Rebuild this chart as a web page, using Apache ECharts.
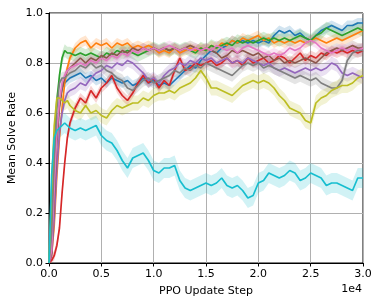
<!DOCTYPE html>
<html><head><meta charset="utf-8">
<script src="https://cdn.jsdelivr.net/npm/echarts@6/dist/echarts.min.js"></script>
<style>html,body{margin:0;padding:0;background:#fff}#c{width:381px;height:305px}</style>
</head><body><div id="c"></div>
<script>
const steps = [0,250,500,750,1000,1250,1500,1750,2000,
 2500,3000,3500,4000,4500,5000,5500,6000,6500,7000,
 7500,8000,8500,9000,9500,10000,10500,11000,11500,12000,
 12500,13000,13500,14000,14500,15000,15500,16000,16500,17000,
 17500,18000,18500,19000,19500,20000,20500,21000,21500,22000,
 22500,23000,23500,24000,24500,25000,25500,26000,26500,27000,
 27500,28000,28500,29000,29500,30000];
const xTickLabels = ['0.0','0.5','1.0','1.5','2.0','2.5','3.0'];
const yTickLabels = ['0.0','0.2','0.4','0.6','0.8','1.0'];

const blue = [0,0.05,0.30,0.52,0.64,0.70,0.72,0.73,0.74,
 0.75,0.76,0.74,0.75,0.73,0.74,0.72,0.74,0.73,0.72,
 0.73,0.71,0.72,0.74,0.72,0.73,0.71,0.72,0.71,0.73,
 0.75,0.77,0.79,0.78,0.81,0.83,0.85,0.84,0.86,0.87,
 0.89,0.88,0.89,0.88,0.89,0.88,0.89,0.88,0.91,0.93,
 0.92,0.93,0.91,0.92,0.90,0.89,0.91,0.93,0.94,0.95,
 0.94,0.93,0.95,0.95,0.96,0.96];
const orange = [0,0.03,0.15,0.35,0.50,0.62,0.72,0.78,0.82,
 0.86,0.88,0.89,0.86,0.88,0.87,0.88,0.86,0.88,0.87,
 0.88,0.86,0.87,0.86,0.87,0.86,0.84,0.85,0.84,0.86,
 0.84,0.85,0.86,0.85,0.86,0.85,0.87,0.86,0.88,0.87,
 0.89,0.88,0.90,0.89,0.90,0.91,0.89,0.90,0.88,0.89,
 0.88,0.89,0.88,0.89,0.88,0.89,0.90,0.89,0.88,0.89,
 0.90,0.89,0.90,0.91,0.92,0.93];
const green = [0,0.15,0.45,0.65,0.75,0.82,0.85,0.84,0.84,
 0.83,0.84,0.83,0.84,0.83,0.82,0.84,0.83,0.85,0.84,
 0.85,0.84,0.83,0.84,0.85,0.86,0.85,0.86,0.85,0.86,
 0.85,0.86,0.85,0.84,0.86,0.85,0.87,0.86,0.87,0.88,
 0.87,0.89,0.88,0.89,0.88,0.89,0.90,0.89,0.90,0.89,
 0.90,0.89,0.90,0.91,0.90,0.89,0.91,0.92,0.94,0.93,
 0.92,0.91,0.92,0.93,0.94,0.93];
const red = [0,0.01,0.03,0.07,0.14,0.28,0.40,0.50,0.56,
 0.62,0.66,0.64,0.69,0.66,0.70,0.72,0.75,0.70,0.67,
 0.65,0.68,0.72,0.75,0.72,0.74,0.70,0.73,0.71,0.77,
 0.82,0.77,0.78,0.80,0.79,0.80,0.81,0.79,0.80,0.82,
 0.80,0.81,0.79,0.82,0.80,0.81,0.82,0.80,0.81,0.83,
 0.82,0.80,0.82,0.84,0.81,0.83,0.82,0.84,0.83,0.85,
 0.84,0.85,0.84,0.85,0.84,0.85];
const purple = [0,0.03,0.18,0.38,0.52,0.60,0.65,0.68,0.69,
 0.70,0.72,0.71,0.74,0.76,0.77,0.79,0.78,0.80,0.79,
 0.81,0.80,0.78,0.76,0.73,0.74,0.72,0.75,0.77,0.78,
 0.80,0.79,0.81,0.80,0.82,0.81,0.82,0.80,0.81,0.82,
 0.80,0.81,0.80,0.82,0.81,0.80,0.79,0.80,0.78,0.77,
 0.78,0.77,0.76,0.77,0.78,0.77,0.78,0.77,0.78,0.80,
 0.79,0.76,0.75,0.76,0.75,0.74];
const brown = [0,0.04,0.25,0.48,0.62,0.70,0.74,0.77,0.78,
 0.80,0.82,0.80,0.82,0.81,0.83,0.82,0.84,0.83,0.85,
 0.84,0.86,0.85,0.86,0.85,0.86,0.85,0.86,0.85,0.86,
 0.85,0.86,0.87,0.86,0.85,0.86,0.85,0.84,0.82,0.83,
 0.85,0.84,0.85,0.84,0.83,0.84,0.82,0.83,0.81,0.82,
 0.80,0.81,0.80,0.81,0.82,0.81,0.80,0.82,0.84,0.85,
 0.86,0.85,0.86,0.87,0.86,0.86];
const pink = [0,0.05,0.30,0.52,0.65,0.72,0.75,0.77,0.78,
 0.79,0.80,0.79,0.81,0.80,0.82,0.81,0.83,0.82,0.84,
 0.83,0.85,0.84,0.86,0.85,0.86,0.85,0.86,0.87,0.86,
 0.85,0.86,0.85,0.86,0.85,0.86,0.85,0.87,0.86,0.85,
 0.86,0.84,0.86,0.87,0.86,0.85,0.84,0.83,0.84,0.83,
 0.84,0.86,0.85,0.86,0.88,0.89,0.88,0.86,0.85,0.84,
 0.85,0.86,0.85,0.86,0.85,0.86];
const gray = [0,0.12,0.42,0.62,0.72,0.74,0.74,0.75,0.76,
 0.77,0.79,0.78,0.80,0.78,0.79,0.77,0.76,0.74,0.73,
 0.70,0.69,0.71,0.73,0.74,0.72,0.73,0.74,0.75,0.77,
 0.76,0.78,0.77,0.79,0.78,0.80,0.79,0.78,0.77,0.76,
 0.75,0.77,0.79,0.80,0.79,0.80,0.78,0.79,0.78,0.77,
 0.76,0.75,0.74,0.75,0.74,0.73,0.74,0.72,0.71,0.70,
 0.70,0.73,0.81,0.84,0.85,0.85];
const olive = [0,0.30,0.55,0.66,0.66,0.65,0.64,0.65,0.63,
 0.61,0.60,0.63,0.60,0.61,0.59,0.58,0.61,0.63,0.62,
 0.63,0.64,0.64,0.66,0.65,0.67,0.68,0.68,0.69,0.68,
 0.70,0.71,0.72,0.74,0.77,0.74,0.70,0.70,0.69,0.68,
 0.67,0.69,0.71,0.72,0.73,0.72,0.73,0.72,0.70,0.67,
 0.65,0.62,0.61,0.60,0.57,0.56,0.64,0.66,0.67,0.69,
 0.70,0.71,0.71,0.72,0.74,0.75];
const cyan = [0,0.35,0.50,0.53,0.54,0.55,0.56,0.55,0.54,
 0.53,0.54,0.53,0.54,0.55,0.51,0.49,0.48,0.45,0.41,
 0.38,0.42,0.43,0.44,0.41,0.37,0.36,0.38,0.38,0.39,
 0.33,0.30,0.29,0.30,0.31,0.32,0.31,0.32,0.34,0.31,
 0.30,0.31,0.29,0.26,0.27,0.32,0.33,0.36,0.35,0.34,
 0.35,0.37,0.36,0.33,0.34,0.36,0.35,0.34,0.31,0.32,
 0.32,0.31,0.30,0.29,0.34,0.34];

const seriesValues = [blue, orange, green, red, purple, brown, pink, gray, olive, cyan];
const spreads = [0.02, 0.02, 0.025, 0.02, 0.025, 0.02, 0.02, 0.025, 0.03, 0.04];
const colors = ['#1f77b4','#ff7f0e','#2ca02c','#d62728','#9467bd','#8c564b','#e377c2','#7f7f7f','#bcbd22','#17becf'];

const FONT = 'DejaVu Sans';
const series = [];
seriesValues.forEach((vals, i) => {
  const s = spreads[i];
  const bandData = vals.map((v,j)=>[steps[j], Math.max(0, v - s), v + s]);
  series.push({
    type:'custom', silent:true, z:1, animation:false,
    data: bandData,
    encode:{x:0, y:[1,2]},
    renderItem: function(params, api) {
      if (params.dataIndex !== 0) return null;
      const pts = [];
      for (let j = 0; j < bandData.length; j++) pts.push(api.coord([bandData[j][0], bandData[j][2]]));
      for (let j = bandData.length - 1; j >= 0; j--) pts.push(api.coord([bandData[j][0], bandData[j][1]]));
      return {type:'polygon', shape:{points:pts}, style:{fill:colors[i], opacity:0.2}};
    }
  });
});
seriesValues.forEach((vals, i) => {
  series.push({type:'line', data: vals.map((v,j)=>[steps[j], v]), symbol:'none',
    lineStyle:{color:colors[i], width:1.7}, z:3, animation:false});
});

const chart = echarts.init(document.getElementById('c'), null, {renderer:'canvas'});
chart.setOption({
  animation:false,
  backgroundColor:'#fff',
  grid:{left:49, right:18, top:13, bottom:42, show:true, borderColor:'#000', borderWidth:1,
    containLabel:false, outerBoundsMode:'none'},
  xAxis:{type:'value', min:0, max:30000, interval:5000,
    name:'PPO Update Step', nameLocation:'middle', nameGap:23, nameMoveOverlap:false,
    nameTextStyle:{fontFamily:FONT, fontSize:11, color:'#000'},
    axisLine:{show:true, lineStyle:{color:'#000', width:1}},
    axisTick:{show:true, inside:false, length:3.5, lineStyle:{color:'#000'}},
    axisLabel:{fontFamily:FONT, fontSize:11, color:'#000', margin:6,
      formatter:v => xTickLabels[Math.round(v/5000)]},
    splitLine:{show:true, lineStyle:{color:'#b0b0b0', width:1}}},
  yAxis:{type:'value', min:0, max:1, interval:0.2,
    name:'Mean Solve Rate', nameLocation:'middle', nameGap:31, nameMoveOverlap:false,
    nameTextStyle:{fontFamily:FONT, fontSize:11, color:'#000'},
    axisLine:{show:true, lineStyle:{color:'#000', width:1}},
    axisTick:{show:true, inside:false, length:3.5, lineStyle:{color:'#000'}},
    axisLabel:{fontFamily:FONT, fontSize:11, color:'#000', margin:6,
      formatter:v => yTickLabels[Math.round(v/0.2)]},
    splitLine:{show:true, lineStyle:{color:'#b0b0b0', width:1}}},
  graphic:[{type:'text', right:19, top:284, style:{text:'1e4', font:'11px "DejaVu Sans"', fill:'#000'}}],
  series: series
});
</script></body></html>
